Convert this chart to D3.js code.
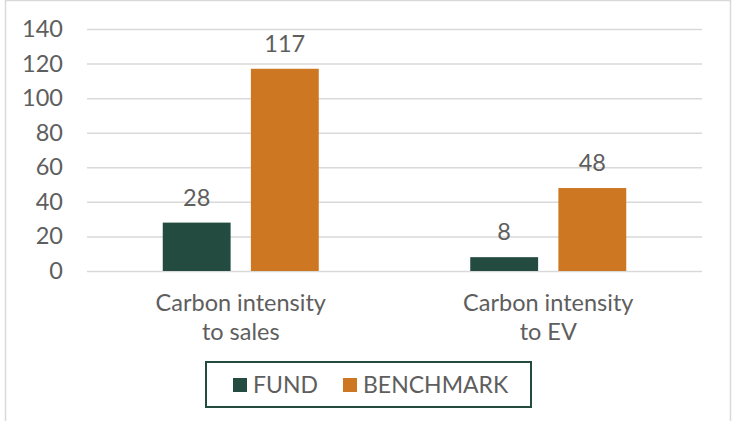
<!DOCTYPE html>
<html>
<head>
<meta charset="utf-8">
<script src="https://cdn.jsdelivr.net/npm/d3@7"></script>
<style>
  body { margin: 0; background: #fff; }
  svg { display: block; font-family: Lato, "Open Sans", sans-serif; }
</style>
</head>
<body>
<svg id="chart" width="735" height="421"></svg>
<script>
// chart data
const categories = [["Carbon intensity", "to sales"], ["Carbon intensity", "to EV"]];
const seriesNames = ["FUND", "BENCHMARK"];
const fundValues = [28, 8];
const benchmarkValues = [117, 48];
const yTicks = [0, 20, 40, 60, 80, 100, 120, 140];

const colors = { FUND: "#234B40", BENCHMARK: "#CD7722" };
const textColor = "#5E5E5E";
const gridColor = "#D9D9D9";
const fontSize = 23.5;

const svg = d3.select("#chart");

// outer border
svg.append("rect")
  .attr("x", 5.5).attr("y", 0.5)
  .attr("width", 725).attr("height", 430)
  .attr("fill", "none")
  .attr("stroke", gridColor)
  .attr("stroke-width", 1.5);

const plot = { left: 87, right: 702, top: 29, bottom: 271 };

const xScale = d3.scaleBand()
  .domain(d3.range(categories.length))
  .range([plot.left, plot.right]);

const inner = d3.scaleBand()
  .domain(seriesNames)
  .range([75.75, 231.75])
  .paddingInner(0.23);

const yScale = d3.scaleLinear()
  .domain([0, 140])
  .range([plot.bottom, plot.top]);

// gridlines + y labels
const yAxis = d3.axisLeft(yScale)
  .tickValues(yTicks)
  .tickSize(-(plot.right - plot.left))
  .tickPadding(24);

const yG = svg.append("g")
  .attr("transform", `translate(${plot.left},0)`)
  .call(yAxis);
yG.select(".domain").remove();
yG.selectAll(".tick line")
  .attr("stroke", gridColor)
  .attr("stroke-width", 1.5);
yG.selectAll(".tick text")
  .attr("fill", textColor)
  .attr("font-size", fontSize)
  .attr("font-family", "Lato, sans-serif");

// bars
const rows = categories.map((c, i) => ({
  i,
  values: [
    { key: "FUND", value: fundValues[i] },
    { key: "BENCHMARK", value: benchmarkValues[i] }
  ]
}));

const groups = svg.selectAll(".group")
  .data(rows)
  .join("g")
  .attr("class", "group")
  .attr("transform", d => `translate(${xScale(d.i)},0)`);

groups.selectAll("rect")
  .data(d => d.values)
  .join("rect")
  .attr("x", d => inner(d.key))
  .attr("y", d => yScale(d.value))
  .attr("width", inner.bandwidth())
  .attr("height", d => yScale(0) - yScale(d.value))
  .attr("fill", d => colors[d.key]);

groups.selectAll(".val")
  .data(d => d.values)
  .join("text")
  .attr("class", "val")
  .attr("x", d => inner(d.key) + inner.bandwidth() / 2)
  .attr("y", d => yScale(d.value) - 17)
  .attr("text-anchor", "middle")
  .attr("fill", textColor)
  .attr("font-size", fontSize)
  .text(d => d.value);

// category labels
groups.append("text")
  .attr("x", xScale.bandwidth() / 2)
  .attr("text-anchor", "middle")
  .attr("fill", textColor)
  .attr("font-size", fontSize)
  .selectAll("tspan")
  .data(d => categories[d.i])
  .join("tspan")
  .attr("x", xScale.bandwidth() / 2)
  .attr("y", (d, j) => 311 + j * 29)
  .text(d => d);

// legend
const legend = svg.append("g");
legend.append("rect")
  .attr("x", 206).attr("y", 362)
  .attr("width", 325).attr("height", 45)
  .attr("fill", "none")
  .attr("stroke", colors.FUND)
  .attr("stroke-width", 2);

const legendX = [233, 343];
const items = legend.selectAll(".item")
  .data(seriesNames)
  .join("g")
  .attr("class", "item")
  .attr("transform", (d, i) => `translate(${legendX[i]},0)`);

items.append("rect")
  .attr("x", 0).attr("y", 378)
  .attr("width", 14).attr("height", 14)
  .attr("fill", d => colors[d]);

items.append("text")
  .attr("x", 20).attr("y", 393)
  .attr("fill", textColor)
  .attr("font-size", 23)
  .text(d => d);
</script>
</body>
</html>
